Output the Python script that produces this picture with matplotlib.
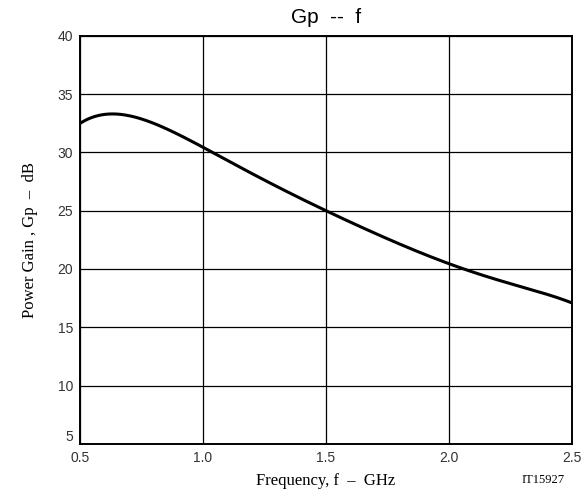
import numpy as np
import matplotlib.pyplot as plt

freq = [0.5, 0.55, 0.6, 0.64, 0.7, 0.825, 1.0, 1.25, 1.5, 1.75, 2.0, 2.25, 2.5]
gain = [32.5, 32.95, 33.25, 33.35, 33.2, 32.2, 30.4, 27.7, 25.0, 22.5, 20.55, 18.7, 17.1]
xticks = [0.5, 1.0, 1.5, 2.0, 2.5]
yticks = [5, 10, 15, 20, 25, 30, 35, 40]

fig = plt.figure(figsize=(5.84, 4.97), dpi=100)
ax = fig.add_axes([0.137, 0.107, 0.842, 0.821])

# smooth the read points a little with a polynomial fit
xs = np.linspace(freq[0], freq[-1], 400)
coef = np.polyfit(freq, gain, 6)
ax.plot(xs, np.polyval(coef, xs), color='black', lw=2.2)

ax.set_xlim(0.5, 2.5)
ax.set_ylim(5, 40)
ax.set_xticks(xticks)
ax.set_yticks(yticks)
ax.set_xticklabels(['%.1f' % t for t in xticks], family='Liberation Sans', fontsize=10, color='#333333')
ax.set_yticklabels([str(t) for t in yticks], family='Liberation Sans', fontsize=10, color='#333333')
ax.get_yticklabels()[0].set_va('bottom')
ax.tick_params(length=0, pad=5)
ax.grid(True, color='black', lw=0.9)
for s in ax.spines.values():
    s.set_linewidth(1.4)

ax.set_xlabel('Frequency, f  \u2013  GHz', family='Liberation Serif', fontsize=12, labelpad=6)
ax.set_ylabel('Power Gain , Gp  \u2013  dB', family='Liberation Serif', fontsize=12, labelpad=14)
fig.text(0.558, 0.965, 'Gp  --  f', family='Liberation Sans', fontsize=15, ha='center', va='center')
fig.text(0.93, 0.034, 'IT15927', family='Liberation Serif', fontsize=9, ha='center', va='center')

fig.savefig('out.png', dpi=100)
